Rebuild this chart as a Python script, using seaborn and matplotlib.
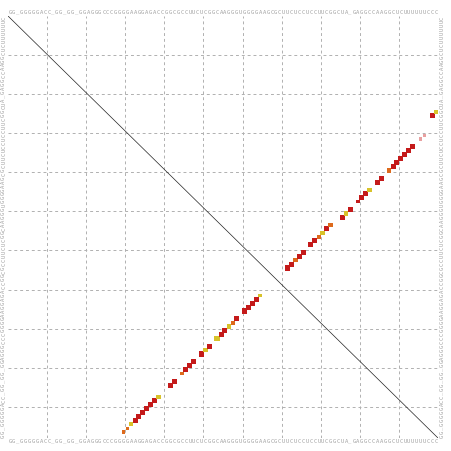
import numpy as np
import pandas as pd
import seaborn as sns
import matplotlib.pyplot as plt

# sequences (x axis: top/bottom, y axis: left/right)
seq_x = ("GG_GGGGGACC_GG_GG_GGAGGGCCC"
         "GGGGAAGGAGACCGGCGCCUUCUCGGCA"
         "AGGGUGGGGAAGCGCUUCUCCUCCUU"
         "CGGCUA_GAGGCCAAGGCUCUUUUUUCCC")
seq_y = seq_x[:108]

# aligned positions (x index, y index counted from top)
pos_x = [29, 30, 31, 32, 33, 34, 35, 36, 37, 38,
         41, 42,
         44, 45, 46, 47,
         49, 50, 51,
         53, 54, 55, 56, 57, 58,
         60, 61, 62, 63, 64,
         71, 72, 73, 74, 75,
         77, 78, 79, 80, 81, 82,
         85, 86, 87,
         89, 90, 91, 92,
         94, 95,
         97, 98, 99, 100, 101, 102, 103,
         105, 106,
         108, 109]
pos_y = [106, 105, 104, 103, 102, 101, 100, 99, 98, 97,
         94, 93,
         91, 90, 89, 88,
         86, 85, 84,
         82, 81, 80, 79, 78, 77,
         75, 74, 73, 72, 71,
         64, 63, 62, 61, 60,
         58, 57, 56, 55, 54, 53,
         51, 50, 49,
         47, 46, 45, 44,
         42, 41,
         39, 38, 37, 36, 35, 34, 33,
         31, 30,
         25, 24]
prob = [0.4, 0.4, 0.5, 0.9, 0.9, 0.9, 0.9, 0.9, 0.9, 0.7,
        0.9, 0.9,
        0.5, 0.9, 0.9, 0.9,
        1.0, 0.7, 0.9,
        1.0, 0.9, 0.9, 0.7, 0.7, 0.9,
        0.9, 0.9, 0.9, 0.9, 0.5,
        0.9, 0.9, 0.7, 0.9, 0.9,
        0.9, 0.9, 0.7, 0.7, 0.9, 0.7,
        0.9, 0.7, 0.9,
        0.5, 0.9, 0.9, 0.7,
        0.9, 0.9,
        0.7, 0.9, 0.9, 0.9, 0.9, 0.9, 0.9,
        0.4, 0.4,
        0.8, 0.7]
kind = ["o", "o", "y", "r", "r", "r", "r", "r", "r", "y",
        "r", "r",
        "o", "r", "r", "r",
        "r", "y", "r",
        "y", "r", "r", "y", "o", "r",
        "r", "r", "r", "r", "y",
        "r", "r", "o", "r", "r",
        "r", "r", "o", "y", "r", "o",
        "r", "y", "r",
        "r", "r", "r", "y",
        "r", "r",
        "o", "r", "r", "r", "r", "r", "r",
        "p", "p",
        "r", "y"]

nx, ny = len(seq_x), len(seq_y)

df = pd.DataFrame({"x": np.array(pos_x) + 0.5, "y": np.array(pos_y) + 0.5,
                   "prob": prob, "kind": kind})

sns.set_style("white")
fig = plt.figure(figsize=(4.52, 4.51), dpi=100)
ax = fig.add_axes([8 / 452, 1 - 438 / 451, 430 / 452, 422 / 451])

# grid every 10 nucleotides
for k in range(10, nx, 10):
    ax.axvline(k, color="#b0b0b0", lw=0.7, ls=(0, (3, 3)), zorder=0)
for k in range(10, ny, 10):
    ax.axhline(k, color="#b0b0b0", lw=0.7, ls=(0, (3, 3)), zorder=0)

ax.plot([0, nx], [0, ny], color="#222222", lw=0.5, zorder=1)

sns.scatterplot(data=df, x="x", y="y", hue="kind", size="prob",
                palette={"r": "#c41a1a", "o": "#dd6a1c", "y": "#d8c22a", "p": "#e8a0a0"},
                sizes=(4, 15), size_norm=(0.3, 1.0), marker="s", linewidth=0,
                legend=False, ax=ax, zorder=2)

ax.set_xlim(0, nx)
ax.set_ylim(ny, 0)
ax.set_xticks([])
ax.set_yticks([])
ax.set_xlabel("")
ax.set_ylabel("")
for s in ax.spines.values():
    s.set_visible(False)

txt = dict(fontsize=4.0, color="#a0a0a0", family="DejaVu Sans Mono",
           ha="center", va="center")
for i, c in enumerate(seq_x):
    ax.text(i + 0.5, -1.0, c, clip_on=False, **txt)
    ax.text(i + 0.5, ny + 1.0, c, clip_on=False, **txt)
for j, c in enumerate(seq_y):
    yy = ny - j - 0.5
    ax.text(-1.1, yy, c, rotation=90, clip_on=False, **txt)
    ax.text(nx + 1.0, yy, c, rotation=90, clip_on=False, **txt)

fig.savefig("out.png", dpi=100, facecolor="white")
